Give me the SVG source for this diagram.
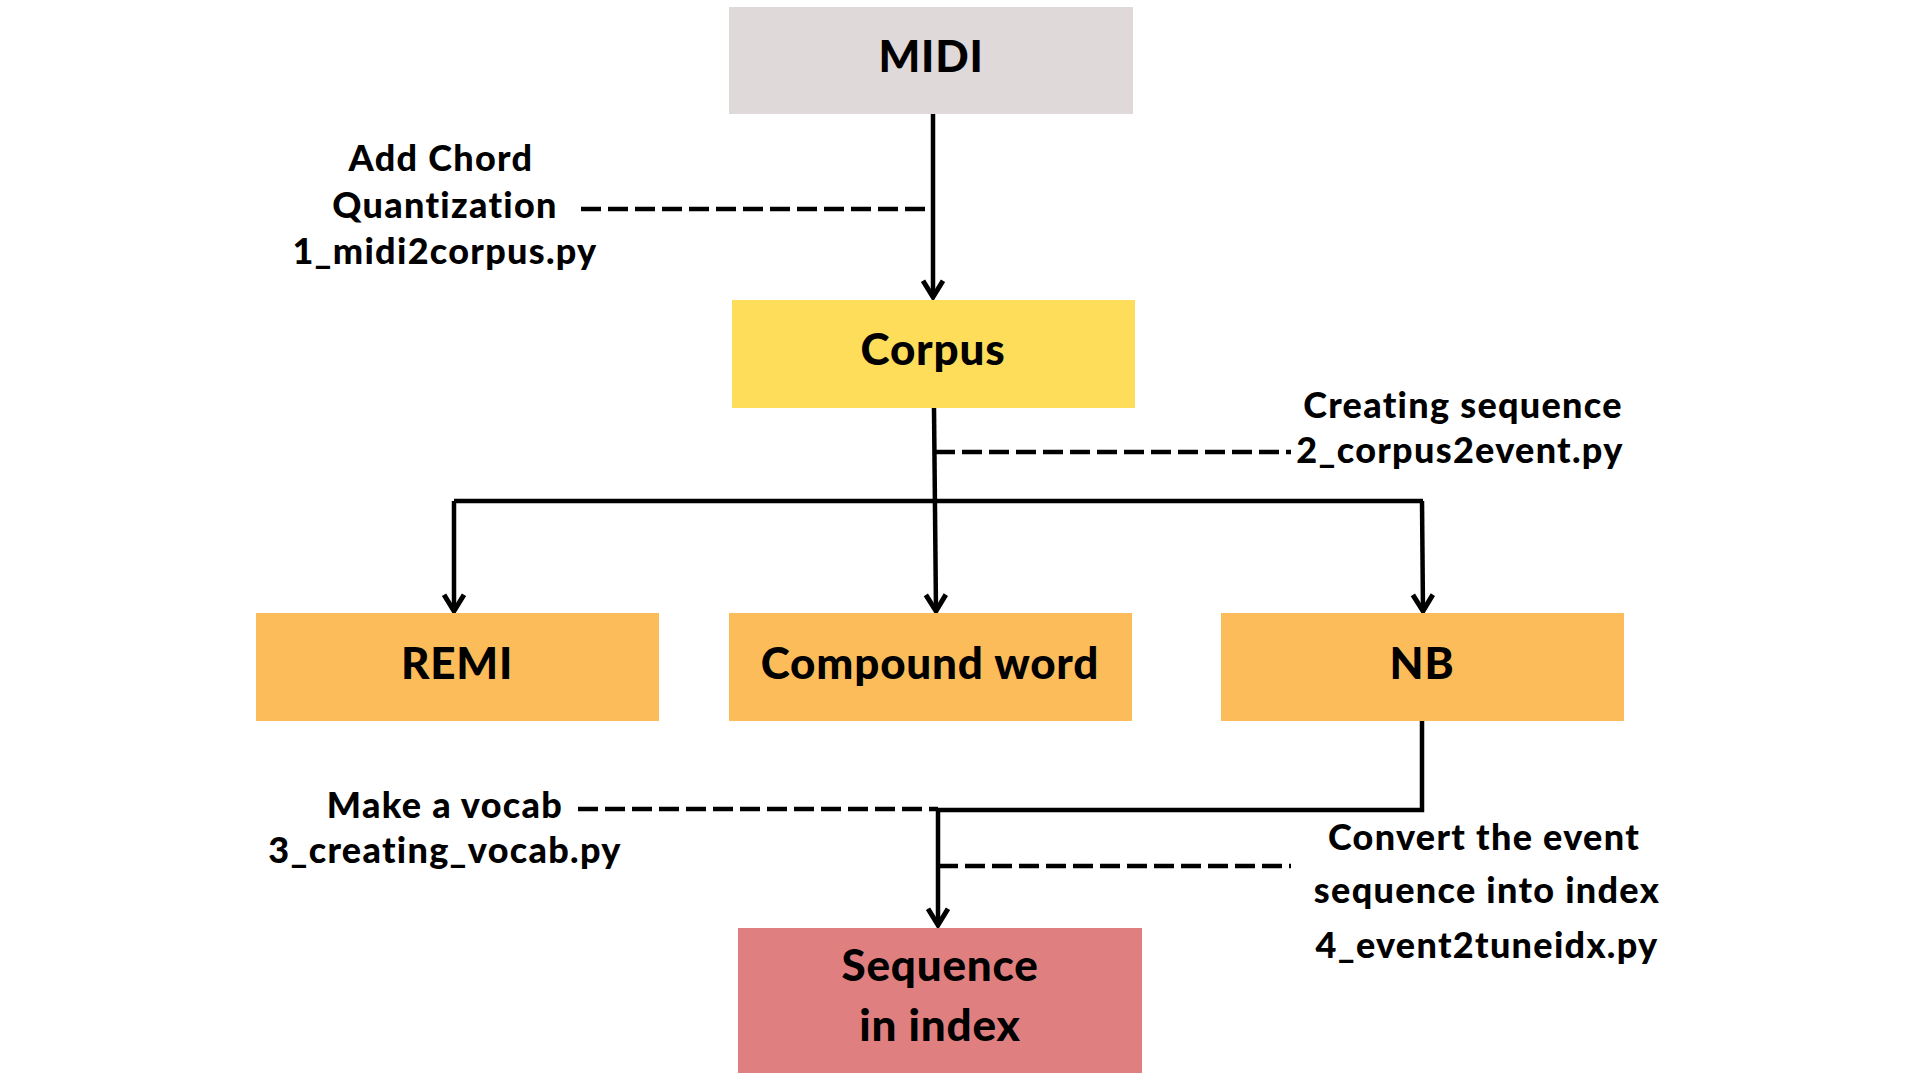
<svg xmlns="http://www.w3.org/2000/svg" width="1920" height="1080" viewBox="0 0 1920 1080">
<defs>
<style>
.box text{font-family:"Lato","Liberation Sans",sans-serif;font-weight:900;font-size:44px;letter-spacing:0.8px;fill:#000;text-anchor:middle}
.lbl{font-family:"Lato","Liberation Sans",sans-serif;font-weight:900;font-size:36px;letter-spacing:1.3px;fill:#000;text-anchor:middle}
.ln{stroke:#000;stroke-width:4.5;fill:none;stroke-linejoin:miter}
.ar{marker-end:url(#chev)}
.dash{stroke:#000;stroke-width:4.5;fill:none;stroke-dasharray:20 7}
</style>
<marker id="chev" markerUnits="userSpaceOnUse" markerWidth="30" markerHeight="30" viewBox="-16 -12 20 24" refX="0" refY="0" orient="auto">
<path d="M-13,-8 L0,0 L-13,8" fill="none" stroke="#000" stroke-width="4"/>
</marker>
</defs>
<rect width="1920" height="1080" fill="#fff"/>
<g id="connectors">
<path class="ln ar" d="M933,114 V297"/>
<path class="dash" d="M581,209 H933"/>
<path class="ln ar" d="M934,408 L936,611"/>
<path class="ln" d="M454,501 H1423"/>
<path class="ln ar" d="M454,501 V611"/>
<path class="ln ar" d="M1422,501 L1423,611"/>
<path class="dash" d="M935,452 H1291"/>
<path class="ln" d="M1422,721 V810 H938"/>
<path class="ln ar" d="M938,810 V925"/>
<path class="dash" d="M578,809 H938"/>
<path class="dash" d="M938,866 H1291"/>
</g>
<g id="midi" class="box"><rect x="729" y="7" width="404" height="107" fill="#DFD9D9"/><text x="931" y="72">MIDI</text></g>
<g id="corpus" class="box"><rect x="732" y="300" width="403" height="108" fill="#FEDD5A"/><text x="933" y="365">Corpus</text></g>
<g id="remi" class="box"><rect x="256" y="613" width="403" height="108" fill="#FDBC5A"/><text x="457" y="679">REMI</text></g>
<g id="compound" class="box"><rect x="729" y="613" width="403" height="108" fill="#FDBC5A"/><text x="930" y="679">Compound word</text></g>
<g id="nb" class="box"><rect x="1221" y="613" width="403" height="108" fill="#FDBC5A"/><text x="1422" y="679">NB</text></g>
<g id="sequence" class="box"><rect x="738" y="928" width="404" height="145" fill="#E07F7F"/><text x="940" y="981">Sequence</text><text x="940" y="1041">in index</text></g>
<g id="labels">
<text class="lbl" x="441" y="171">Add Chord</text>
<text class="lbl" x="445" y="218">Quantization</text>
<text class="lbl" x="445" y="264">1_midi2corpus.py</text>
<text class="lbl" x="1463" y="418">Creating sequence</text>
<text class="lbl" x="1460" y="463">2_corpus2event.py</text>
<text class="lbl" x="445" y="818">Make a vocab</text>
<text class="lbl" x="445" y="863">3_creating_vocab.py</text>
<text class="lbl" x="1484" y="850">Convert the event</text>
<text class="lbl" x="1487" y="903">sequence into index</text>
<text class="lbl" x="1487" y="958">4_event2tuneidx.py</text>
</g>
</svg>
